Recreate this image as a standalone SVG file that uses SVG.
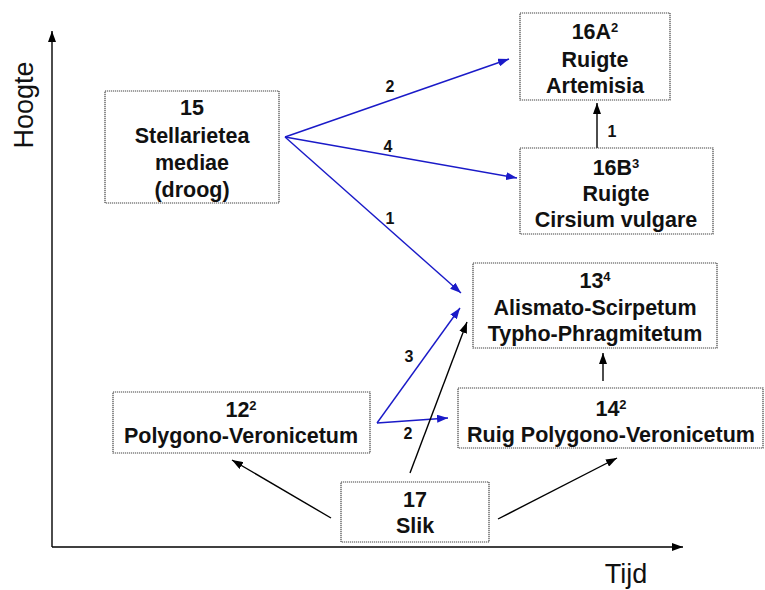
<svg xmlns="http://www.w3.org/2000/svg" width="765" height="590" viewBox="0 0 765 590">
<defs>
<marker id="ab" markerUnits="userSpaceOnUse" markerWidth="11" markerHeight="8" refX="11" refY="4" orient="auto"><path d="M0,0 L11,4 L0,8 z" fill="#000"/></marker>
<marker id="au" markerUnits="userSpaceOnUse" markerWidth="11" markerHeight="8" refX="11" refY="4" orient="auto"><path d="M0,0 L11,4 L0,8 z" fill="#1a1ac8"/></marker>
<style>
.box{fill:#fff;stroke:#444;stroke-width:1.2;stroke-dasharray:1.2 0.8}
.t{font-family:"Liberation Sans",Arial,sans-serif;font-weight:bold;font-size:21.5px;text-anchor:middle;fill:#111}
.lbl{font-family:"Liberation Sans",Arial,sans-serif;font-weight:bold;font-size:16px;text-anchor:middle;fill:#111}
.ax{font-family:"Liberation Sans",Arial,sans-serif;font-size:27px;fill:#111}
.bl{stroke:#000;stroke-width:1.4;fill:none;marker-end:url(#ab)}
.bu{stroke:#1a1ac8;stroke-width:1.4;fill:none;marker-end:url(#au)}
.sup{font-size:13px}
</style>
</defs>
<rect width="765" height="590" fill="#fff"/>
<g id="axes">
<line x1="52" y1="547" x2="52" y2="31" class="bl"/>
<line x1="52" y1="547" x2="683" y2="547" class="bl"/>
<text class="ax" transform="translate(33,105) rotate(-90)" text-anchor="middle">Hoogte</text>
<text class="ax" x="626" y="583" text-anchor="middle">Tijd</text>
</g>
<g id="connectors">
<line x1="285" y1="137" x2="509" y2="59" class="bu"/>
<line x1="285" y1="137" x2="517" y2="178" class="bu"/>
<line x1="285" y1="137" x2="461" y2="293" class="bu"/>
<line x1="377" y1="423" x2="460" y2="308" class="bu"/>
<line x1="377" y1="423" x2="448" y2="418" class="bu"/>
<line x1="410" y1="473" x2="467" y2="322" class="bl"/>
<line x1="331" y1="518" x2="232" y2="460" class="bl"/>
<line x1="498" y1="519" x2="617" y2="458" class="bl"/>
<line x1="603" y1="381" x2="603" y2="353" class="bl"/>
<line x1="597" y1="148" x2="597" y2="103" class="bl"/>
<text class="lbl" x="390" y="92">2</text>
<text class="lbl" x="388" y="152">4</text>
<text class="lbl" x="390" y="224">1</text>
<text class="lbl" x="409" y="362">3</text>
<text class="lbl" x="408" y="439">2</text>
<text class="lbl" x="612" y="137">1</text>
</g>
<g id="n15">
<rect class="box" x="105" y="91" width="174" height="112"/>
<text class="t" x="192" y="115">15</text>
<text class="t" x="192" y="143">Stellarietea</text>
<text class="t" x="192" y="170">mediae</text>
<text class="t" x="192" y="197">(droog)</text>
</g>
<g id="n16A">
<rect class="box" x="520" y="13" width="150" height="87"/>
<text class="t" x="595" y="39">16A<tspan class="sup" dy="-7">2</tspan></text>
<text class="t" x="595" y="67">Ruigte</text>
<text class="t" x="595" y="93">Artemisia</text>
</g>
<g id="n16B">
<rect class="box" x="520" y="148" width="193" height="86"/>
<text class="t" x="616" y="175">16B<tspan class="sup" dy="-7">3</tspan></text>
<text class="t" x="616" y="201">Ruigte</text>
<text class="t" x="616" y="227">Cirsium vulgare</text>
</g>
<g id="n13">
<rect class="box" x="473" y="263" width="244" height="85"/>
<text class="t" x="595" y="288">13<tspan class="sup" dy="-7">4</tspan></text>
<text class="t" x="595" y="315">Alismato-Scirpetum</text>
<text class="t" x="595" y="341">Typho-Phragmitetum</text>
</g>
<g id="n12">
<rect class="box" x="113" y="392" width="257" height="61"/>
<text class="t" x="241" y="417">12<tspan class="sup" dy="-7">2</tspan></text>
<text class="t" x="241" y="443">Polygono-Veronicetum</text>
</g>
<g id="n14">
<rect class="box" x="458" y="388" width="305" height="60"/>
<text class="t" x="611" y="416">14<tspan class="sup" dy="-7">2</tspan></text>
<text class="t" x="611" y="442">Ruig Polygono-Veronicetum</text>
</g>
<g id="n17">
<rect class="box" x="341" y="482" width="148" height="60"/>
<text class="t" x="415" y="507">17</text>
<text class="t" x="415" y="533">Slik</text>
</g>
</svg>
